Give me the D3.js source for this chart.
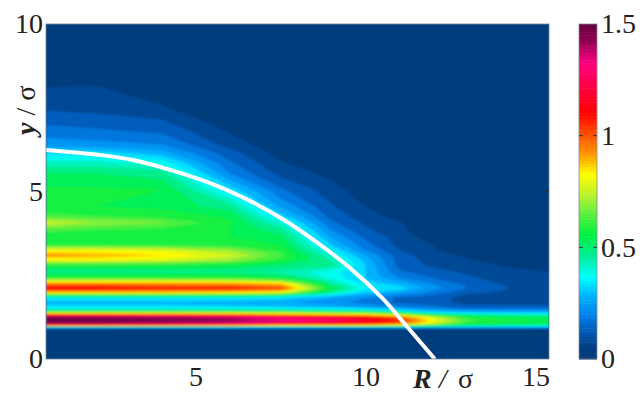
<!DOCTYPE html>
<html><head><meta charset="utf-8">
<script src="https://cdn.jsdelivr.net/npm/d3@7/dist/d3.min.js"></script>
<style>
html,body{margin:0;padding:0;background:#fff;}
text{font-family:"Liberation Serif",serif;fill:#222;}
</style></head><body><div id="c"></div>
<script>
// y position of each grid row (y / sigma)
const yRows=[0,.88,.95,1,1.06,1.15,1.25,1.31,1.37,1.44,1.55,1.68,1.82,1.9,1.98,2.11,2.24,2.32,2.42,2.6,2.8,2.95,3.1,3.25,3.4,3.65,3.85,4.07,4.27,4.55,5.05,5.55,5.85,6.15,6.4,6.8,7.15,7.5,8.1,8.6,10];
// R position of each grid column (R / sigma)
const rCols=[.6,2,4,6,7.5,9,10,11,12,13,14,15.4];
// density profiles along y, one per column
const d06=[0,.02,.3,.95,1.42,1.48,1.45,1.12,.8,.5,.33,.28,.35,.55,.85,1.12,.95,.8,.6,.47,.58,.8,.92,.8,.6,.56,.62,.76,.62,.55,.56,.5,.42,.33,.23,.17,.13,.09,.05,.01,0];
const d20=[0,.02,.3,.95,1.4,1.48,1.44,1.1,.8,.5,.33,.28,.35,.55,.85,1.12,.95,.8,.6,.47,.58,.8,.9,.8,.6,.56,.6,.7,.6,.55,.56,.5,.42,.33,.22,.16,.12,.08,.055,.01,0];
const d40=[0,.02,.3,.92,1.38,1.46,1.42,1.08,.8,.5,.33,.28,.35,.55,.85,1.08,.93,.8,.6,.47,.57,.78,.85,.78,.6,.56,.58,.66,.58,.54,.55,.47,.38,.27,.2,.14,.1,.055,.02,0,0];
const d60=[0,.02,.3,.88,1.32,1.43,1.36,1.04,.8,.5,.32,.27,.34,.54,.83,1.08,.92,.78,.6,.46,.55,.7,.76,.7,.58,.55,.55,.56,.54,.47,.33,.2,.16,.12,.08,.045,.01,0,0,0,0];
const d75=[0,.02,.3,.82,1.22,1.36,1.26,.96,.78,.48,.31,.26,.32,.5,.78,1.02,.88,.72,.55,.44,.5,.58,.62,.58,.55,.52,.47,.4,.32,.24,.16,.08,.055,.03,.01,0,0,0,0,0,0];
const d90=[0,.02,.3,.8,1.15,1.28,1.2,.92,.72,.45,.28,.22,.25,.33,.45,.54,.46,.42,.38,.37,.47,.44,.4,.35,.3,.24,.2,.16,.13,.105,.07,.035,.01,0,0,0,0,0,0,0,0];
const d100=[0,.02,.3,.78,1.1,1.2,1.12,.88,.68,.42,.25,.18,.2,.25,.3,.36,.33,.31,.3,.3,.3,.28,.25,.2,.17,.14,.11,.09,.07,.05,.02,0,0,0,0,0,0,0,0,0,0];
const d110=[0,.02,.3,.7,.98,1.05,.98,.78,.55,.36,.2,.14,.14,.2,.25,.33,.28,.25,.2,.16,.13,.13,.12,.1,.085,.075,.065,.055,.03,.01,0,0,0,0,0,0,0,0,0,0,0];
const d120=[0,.02,.28,.57,.76,.82,.76,.57,.38,.27,.17,.12,.12,.15,.18,.22,.2,.17,.15,.12,.09,.08,.07,.055,.05,.02,0,0,0,0,0,0,0,0,0,0,0,0,0,0,0];
const d130=[0,.02,.27,.48,.58,.62,.58,.48,.34,.24,.12,.085,.08,.09,.11,.15,.14,.12,.11,.09,.07,.055,.04,.02,.01,0,0,0,0,0,0,0,0,0,0,0,0,0,0,0,0];
const d140=[0,.02,.26,.45,.54,.57,.54,.45,.32,.23,.12,.085,.07,.08,.095,.105,.1,.09,.08,.06,.048,.03,.01,0,0,0,0,0,0,0,0,0,0,0,0,0,0,0,0,0,0];
const d154=[0,.02,.25,.44,.52,.55,.52,.44,.32,.23,.12,.085,.07,.075,.075,.075,.07,.065,.06,.05,.04,.025,.01,0,0,0,0,0,0,0,0,0,0,0,0,0,0,0,0,0,0];
const profiles=[d06,d20,d40,d60,d75,d90,d100,d110,d120,d130,d140,d154];
// white curve
const curveR=[.6,2.19,3.16,4.4,5.63,6.6,7.57,8.57,9.54,10.51,11.01,12.04];
const curveY=[6.24,6.09,5.94,5.6,5.17,4.72,4.17,3.48,2.72,1.8,1.22,0];
// colour bar stops
const stopV=[0,.05,.1,.15,.2,.28,.36,.45,.55,.65,.72,.82,.92,1.1,1.32,1.42,1.5];
const stopC=["#003a78","#003f82","#0052aa","#0068cc","#0086ee","#00b4ff","#00ffff","#00eea0","#00f040","#60f040","#b0f030","#ffff00","#ff9000","#ff0000","#ff0080","#900050","#600040"];
const xTicks=[5,10,15], yTicks=[0,5,10], cTicks=[0,.5,1,1.5];
const xLabel=["R","/","σ"], yLabel=["y"," / σ"];

const W=644,H=403,L=46,R=549,T=24,B=359,CL=579,CR=597;
const x=d3.scaleLinear().domain([.6,15.4]).range([L,R]);
const y=d3.scaleLinear().domain([0,10]).range([B,T]);
const color=d3.scaleLinear().domain(stopV).range(stopC);
const cy=d3.scaleLinear().domain([0,1.5]).range([B,T]);
const svg=d3.select("#c").append("svg").attr("width",W).attr("height",H).style("display","block");
const defs=svg.append("defs");
defs.append("clipPath").attr("id","pc").append("rect").attr("x",L).attr("y",T).attr("width",R-L).attr("height",B-T);
const f=defs.append("filter").attr("id","soft").attr("x","-5%").attr("y","-5%").attr("width","110%").attr("height","110%");
f.append("feGaussianBlur").attr("stdDeviation",.9).attr("edgeMode","duplicate");

const nx=rCols.length,ny=yRows.length;
const grid=[];
for(let j=0;j<ny;j++)for(let i=0;i<nx;i++)grid.push(profiles[i][j]);
const step=.05;
const levels=d3.range(0,1.5+1e-6,step).map(v=>+v.toFixed(2));
const ix=d3.scaleLinear().domain(d3.range(nx)).range(rCols).clamp(true);
const iy=d3.scaleLinear().domain(d3.range(ny)).range(yRows).clamp(true);
const cs=d3.contours().size([nx,ny]).thresholds(levels)(grid);
const path=d3.geoPath();
const warp=g=>({type:g.type,coordinates:g.coordinates.map(p=>p.map(r=>r.map(([a,b])=>[x(ix(a-.5)),y(iy(b-.5))])))});
const plot=svg.append("g").attr("clip-path","url(#pc)").append("g").attr("filter","url(#soft)");
plot.append("rect").attr("x",L-10).attr("y",T-10).attr("width",R-L+20).attr("height",B-T+20).attr("fill",color(0));
plot.selectAll("path").data(cs).join("path").attr("d",d=>path(warp(d))).attr("fill",d=>color(d.value+step/2));

// white curve
const line=d3.line().x(d=>x(d[0])).y(d=>y(d[1])).curve(d3.curveCatmullRom);
svg.append("g").attr("clip-path","url(#pc)").append("path").datum(d3.zip(curveR,curveY)).attr("d",line)
  .attr("fill","none").attr("stroke","#fff").attr("stroke-width",4);

// frame
svg.append("rect").attr("x",L).attr("y",T).attr("width",R-L).attr("height",B-T).attr("fill","none").attr("stroke","#6f86a0").attr("stroke-width",.8);

// axes
const fs=28;
const gx=svg.append("g").attr("transform",`translate(0,${B})`).call(d3.axisBottom(x).tickValues(xTicks).tickSize(0).tickPadding(7).tickFormat(d3.format("d")));
const gy=svg.append("g").attr("transform",`translate(${L},0)`).call(d3.axisLeft(y).tickValues(yTicks).tickSize(0).tickPadding(3).tickFormat(d3.format("d")));
[gx,gy].forEach(g=>{g.select(".domain").remove();g.selectAll("text").attr("font-size",fs).attr("font-family",null);g.attr("font-family",null);});

// right-side ticks
svg.selectAll("line.rt").data([5]).join("line").attr("x1",R-5).attr("x2",R).attr("y1",d=>y(d)).attr("y2",d=>y(d)).attr("stroke","#234");

// axis titles
const xt=svg.append("g").attr("font-size",fs);
xt.append("text").attr("x",413).attr("y",388).text(xLabel[0]).attr("font-weight","bold").attr("font-style","italic");
xt.append("text").attr("x",439).attr("y",388).text(xLabel[1]).attr("font-style","italic");
xt.append("text").attr("x",458).attr("y",388).text(xLabel[2]);
const yt=svg.append("text").attr("transform","translate(35,135) rotate(-90)").attr("font-size",fs);
yt.append("tspan").text(yLabel[0]).attr("font-weight","bold").attr("font-style","italic");
yt.append("tspan").text(yLabel[1]);

// colour bar
const barV=d3.range(0,1.5,.0125);
svg.append("g").selectAll("rect").data(barV).join("rect").attr("x",CL).attr("width",CR-CL)
  .attr("y",d=>cy(d+.0125)).attr("height",d=>cy(d)-cy(d+.0125)+.5).attr("fill",d=>color(d));
svg.append("rect").attr("x",CL).attr("y",T).attr("width",CR-CL).attr("height",B-T).attr("fill","none").attr("stroke","#8a8a90").attr("stroke-width",.8);
const gc=svg.append("g").attr("transform",`translate(${CR},0)`).call(d3.axisRight(cy).tickValues(cTicks).tickSize(0).tickPadding(4).tickFormat(d=>String(d)));
gc.select(".domain").remove();gc.attr("font-family",null);gc.selectAll("text").attr("font-size",fs).attr("font-family",null);
[.5,1].forEach(v=>{
  svg.append("line").attr("x1",CL).attr("x2",CL+4).attr("y1",cy(v)).attr("y2",cy(v)).attr("stroke","#334");
  svg.append("line").attr("x1",CR-4).attr("x2",CR).attr("y1",cy(v)).attr("y2",cy(v)).attr("stroke","#334");
});
</script></body></html>
